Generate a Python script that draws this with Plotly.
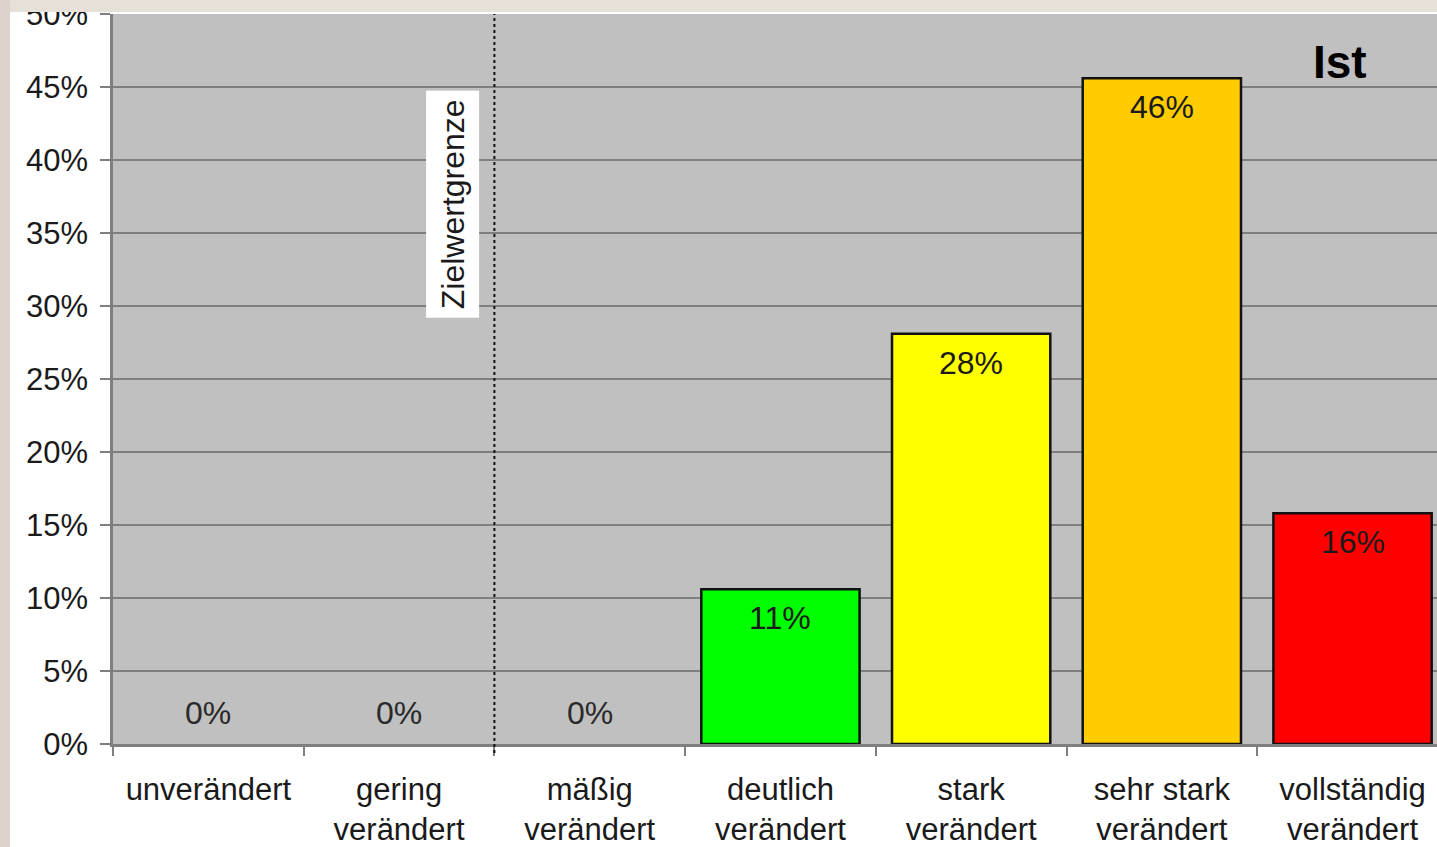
import plotly.graph_objects as go

# Category labels (x axis) and share of each class in percent
categories = [
    "unverändert",
    "gering<br>verändert",
    "mäßig<br>verändert",
    "deutlich<br>verändert",
    "stark<br>verändert",
    "sehr stark<br>verändert",
    "vollständig<br>verändert",
]
shares = [0, 0, 0, 10.6, 28.1, 45.6, 15.8]
bar_colors = ["#c0c0c0", "#c0c0c0", "#c0c0c0", "#00ff00", "#ffff00", "#ffcc00", "#ff0000"]
y_ticks = list(range(0, 55, 5))
y_tick_text = [f"{v}%" for v in y_ticks]

FONT = "Liberation Sans, Arial, sans-serif"
GRID = "#7f7f7f"
TXT = "#1a1a1a"

W, H = 1437, 847
ML, MR, MT, MB = 113, 0, 14, 103
PW, PH = W - ML - MR, H - MT - MB

fig = go.Figure()
fig.add_trace(go.Bar(
    x=categories,
    y=shares,
    width=0.83,
    marker=dict(
        color=bar_colors,
        line=dict(color="#111111", width=[2.5 if v > 0 else 0 for v in shares]),
    ),
    hoverinfo="skip",
))

# value labels: inside near the top for filled bars, above the base for empty ones
annotations = []
for cat, v in zip(categories, shares):
    annotations.append(dict(
        x=cat, y=v, xref="x", yref="y",
        text=f"{v:.0f}%",
        showarrow=False,
        yanchor="middle",
        yshift=-29 if v > 0 else 31,
        font=dict(family=FONT, size=32, color=TXT if v > 0 else "#2a2a2a"),
    ))

# vertical label next to the target boundary
annotations.append(dict(
    x=1.5, y=37, xref="x", yref="y",
    xshift=-42,
    text="Zielwertgrenze",
    textangle=-90,
    showarrow=False,
    bgcolor="white",
    borderpad=8,
    font=dict(family=FONT, size=32, color=TXT),
))

# panel title
annotations.append(dict(
    x=(1340 - ML) / PW, y=1 - (62 - MT) / PH, xref="paper", yref="paper",
    text="<b>Ist</b>",
    showarrow=False,
    xanchor="center", yanchor="middle",
    font=dict(family=FONT, size=46, color="black"),
))

shapes = [
    # dotted target boundary between "gering" and "mäßig"
    dict(type="line", xref="x", yref="paper", x0=1.5, x1=1.5, y0=-9 / PH, y1=1,
         line=dict(color="#111111", width=2, dash="dot"), layer="above"),
    # stone backdrop strips framing the white chart sheet
    dict(type="rect", xref="paper", yref="paper",
         x0=-ML / PW - 0.01, x1=1.01, y0=1 + 2 / PH, y1=1 + (MT + 2) / PH,
         fillcolor="#e6e0d8", line=dict(width=0), layer="above"),
    dict(type="rect", xref="paper", yref="paper",
         x0=-ML / PW - 0.01, x1=-(ML - 10) / PW, y0=-MB / PH - 0.01, y1=1 + (MT + 2) / PH,
         fillcolor="#dcd3cc", line=dict(width=0), layer="above"),
]

fig.update_layout(
    width=W, height=H,
    margin=dict(l=ML, r=MR, t=MT, b=MB, pad=0, autoexpand=False),
    paper_bgcolor="white",
    plot_bgcolor="#c0c0c0",
    showlegend=False,
    annotations=annotations,
    shapes=shapes,
    font=dict(family=FONT, size=32, color=TXT),
)

fig.update_xaxes(
    type="category",
    range=[-0.5, -0.5 + PW / 190.7],
    tickson="boundaries",
    tickangle=0,
    showgrid=False,
    showline=True, linecolor=GRID, linewidth=2.5,
    ticks="outside", ticklen=9, tickcolor=GRID, tickwidth=1.5,
    ticklabelstandoff=16,
    tickfont=dict(family=FONT, size=31, color=TXT),
    zeroline=False,
    automargin=False,
    fixedrange=True,
)
fig.update_yaxes(
    range=[0, 50],
    tickmode="array",
    tickvals=y_ticks,
    ticktext=y_tick_text,
    showgrid=True, gridcolor=GRID, gridwidth=2,
    showline=True, linecolor=GRID, linewidth=2.5,
    ticks="outside", ticklen=10, tickcolor=GRID, tickwidth=2,
    ticklabelstandoff=6,
    ticklabeloverflow="allow",
    tickfont=dict(family=FONT, size=31, color=TXT),
    zeroline=False,
    automargin=False,
    fixedrange=True,
)

fig.write_html("out.html")
